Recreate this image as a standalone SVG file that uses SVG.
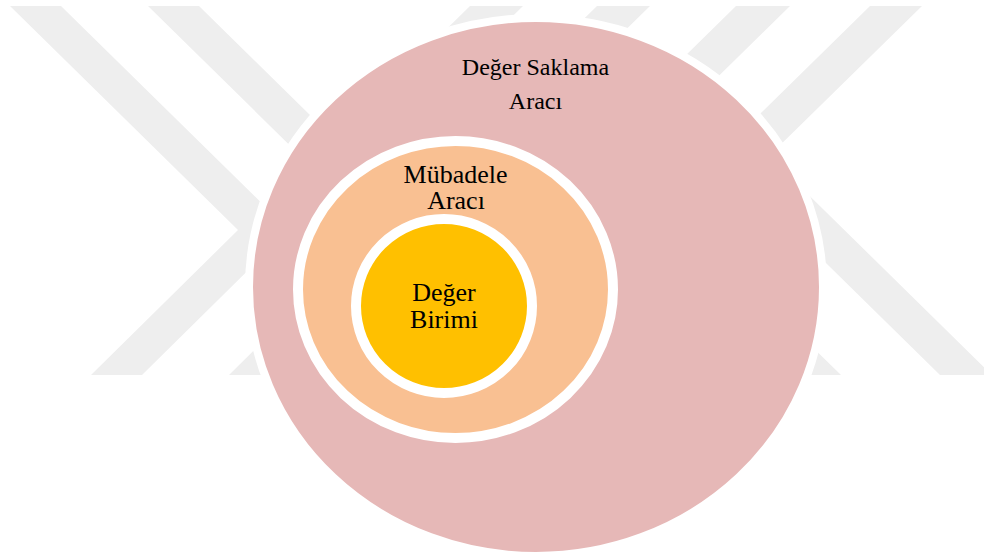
<svg xmlns="http://www.w3.org/2000/svg" width="984" height="558" viewBox="0 0 984 558">
  <style>
    .mark { fill: #EEEEEE; }
    .ring { stroke: #FFFFFF; }
    .label { font-family: "Liberation Serif", "Times New Roman", serif; fill: #000000; text-anchor: middle; }
    .l24 { font-size: 24px; }
    .l26 { font-size: 26px; }
  </style>

  <rect x="0" y="0" width="984" height="558" fill="#FFFFFF"/>

  <!-- background chevron mark -->
  <g id="watermark">
    <path class="mark" d="M10,6 H61 L289,230 L142,375 H91 L238,230 Z"/>
    <path class="mark" d="M148,6 H199 L427,230 L280,375 H229 L376,230 Z"/>
    <path class="mark" d="M470,6 H523 L366,160 L585,375 H532 L313,160 Z"/>
    <path class="mark" d="M597,6 H650 L493,160 L712,375 H659 L440,160 Z"/>
    <path class="mark" d="M736,6 H790 L627,166 L841,375 H788 L573,166 Z"/>
    <path class="mark" d="M870,6 H922 L769,156 L992,375 H940 L717,156 Z"/>
  </g>

  <!-- outer set: store of value -->
  <g id="deger-saklama-araci">
    <ellipse class="ring" cx="536" cy="287" rx="287" ry="269" fill="#E6B8B7" stroke-width="8"/>
    <text class="label l24" x="535.5" y="75">Değer Saklama</text>
    <text class="label l24" x="535.5" y="109">Aracı</text>
  </g>

  <!-- middle set: medium of exchange -->
  <g id="mubadele-araci">
    <ellipse class="ring" cx="455.5" cy="289.5" rx="157.5" ry="148.5" fill="#F9C092" stroke-width="10"/>
    <text class="label l26" x="455.5" y="183">Mübadele</text>
    <text class="label l26" x="456" y="209">Aracı</text>
  </g>

  <!-- inner set: unit of value -->
  <g id="deger-birimi">
    <ellipse class="ring" cx="444" cy="306" rx="88" ry="87" fill="#FFC000" stroke-width="10"/>
    <text class="label l26" x="444" y="301">Değer</text>
    <text class="label l26" x="444" y="328">Birimi</text>
  </g>

  <!-- nested sets, no connectors -->
  <g id="connectors"/>
</svg>
